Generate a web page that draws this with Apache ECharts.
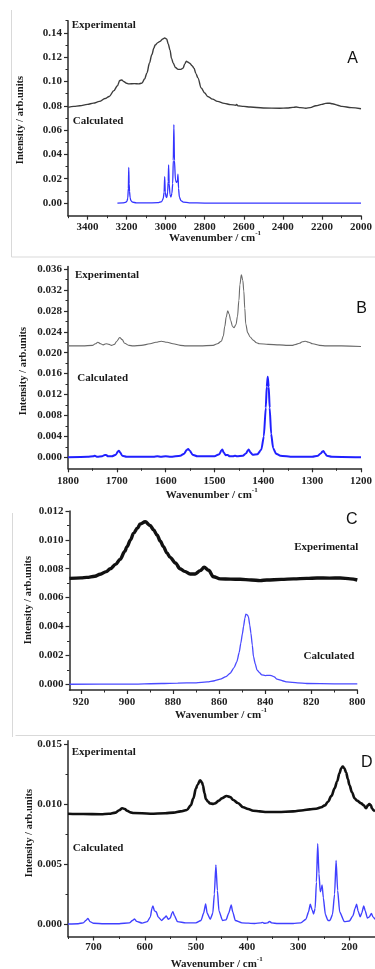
<!DOCTYPE html>
<html><head><meta charset="utf-8">
<script src="https://cdn.jsdelivr.net/npm/echarts@6/dist/echarts.min.js"></script>
<style>html,body{margin:0;padding:0;background:#fff}#c{width:375px;height:969px}</style>
</head><body><div id="c"></div>
<script>
// ---------- Panel A (3500-2000 cm-1) ----------
const expA = [[3500,0.0787],[3470,0.0795],[3440,0.0800],[3400,0.0812],[3370,0.0822],[3339,0.0836],[3310,0.0860],[3289,0.0877],[3265,0.0925],[3247,0.0965],[3235,0.1008],[3225,0.1012],[3213,0.0998],[3200,0.0985],[3188,0.0980],[3160,0.0982],[3138,0.0980],[3121,0.0987],[3108,0.1020],[3096,0.1070],[3083,0.1150],[3071,0.1220],[3060,0.1275],[3054,0.1300],[3040,0.1320],[3029,0.1330],[3015,0.1350],[3005,0.1358],[2995,0.1350],[2987,0.1310],[2978,0.1260],[2970,0.1190],[2961,0.1150],[2950,0.1115],[2936,0.1100],[2922,0.1100],[2911,0.1110],[2902,0.1145],[2894,0.1166],[2885,0.1158],[2877,0.1150],[2865,0.1130],[2855,0.1110],[2845,0.1065],[2835,0.1030],[2818,0.0946],[2800,0.0905],[2785,0.0877],[2760,0.0855],[2735,0.0836],[2700,0.0820],[2668,0.0810],[2640,0.0805],[2637,0.0812],[2630,0.0800],[2600,0.0795],[2567,0.0790],[2500,0.0782],[2416,0.0780],[2380,0.0782],[2349,0.0787],[2332,0.0790],[2310,0.0785],[2282,0.0780],[2260,0.0785],[2231,0.0800],[2200,0.0812],[2181,0.0820],[2160,0.0821],[2147,0.0817],[2120,0.0805],[2097,0.0795],[2050,0.0785],[2000,0.0776]];
const calcA = [[3247,0],[3220,0.0002],[3205,0.0006],[3198,0.0015],[3194,0.004],[3191,0.012],[3189,0.0294],[3187,0.016],[3185,0.0095],[3182,0.0045],[3178,0.002],[3170,0.0007],[3150,0.0002],[3100,0.0001],[3040,0.0003],[3020,0.0012],[3012,0.004],[3008,0.009],[3005,0.0217],[3002,0.009],[2998,0.005],[2994,0.0045],[2990,0.009],[2987,0.018],[2985,0.0313],[2982,0.016],[2978,0.007],[2973,0.005],[2968,0.008],[2964,0.016],[2961,0.035],[2958,0.0644],[2955,0.035],[2950,0.019],[2945,0.017],[2940,0.018],[2937,0.0237],[2934,0.012],[2930,0.005],[2922,0.002],[2910,0.0008],[2880,0.0002],[2800,0],[2000,0]];
const xTicksA = [2000,2200,2400,2600,2800,3000,3200,3400];
const xMinorA = [2100,2300,2500,2700,2900,3100,3300,3500];
const yTicksA = [0,0.02,0.04,0.06,0.08,0.10,0.12,0.14];
const yMinorA = [0.01,0.03,0.05,0.07,0.09,0.11,0.13,0.15];

// ---------- Panel B (1800-1200 cm-1) ----------
const expB = [[1800,0.0213],[1770,0.0213],[1750,0.0214],[1744,0.0217],[1739,0.0220],[1733,0.0217],[1728,0.0215],[1722,0.0217],[1716,0.0216],[1711,0.0214],[1705,0.0216],[1700,0.0222],[1694,0.0229],[1689,0.0225],[1684,0.0218],[1675,0.0214],[1667,0.0213],[1650,0.0214],[1632,0.0217],[1620,0.0220],[1609,0.0222],[1597,0.0220],[1585,0.0217],[1570,0.0214],[1558,0.0213],[1530,0.0213],[1503,0.0214],[1494,0.0217],[1486,0.0222],[1482,0.0232],[1479,0.0250],[1476,0.0268],[1473,0.0280],[1470,0.0274],[1467,0.0262],[1463,0.0250],[1460,0.0248],[1456,0.0254],[1453,0.0269],[1450,0.0300],[1448,0.0330],[1445,0.0349],[1442,0.0338],[1440,0.0318],[1438,0.0285],[1436,0.0255],[1432,0.0238],[1427,0.0230],[1421,0.0224],[1414,0.0219],[1408,0.0217],[1390,0.0216],[1367,0.0215],[1350,0.0214],[1340,0.0214],[1333,0.0216],[1326,0.0218],[1320,0.0221],[1314,0.0222],[1307,0.0220],[1299,0.0217],[1285,0.0214],[1271,0.0213],[1240,0.0213],[1200,0.0212]];
const calcB = [[1800,0],[1760,0.0001],[1748,0.0002],[1745,0.0003],[1740,0.0001],[1730,0.0002],[1726,0.0004],[1722,0.00045],[1718,0.0002],[1710,0.0002],[1702,0.0005],[1698,0.0011],[1696,0.00127],[1693,0.0009],[1689,0.0003],[1680,0.0001],[1625,0.0001],[1617,0.0002],[1610,0.0001],[1600,0.0002],[1590,0.0001],[1570,0.0003],[1562,0.0007],[1557,0.0014],[1554,0.0016],[1550,0.0012],[1545,0.0005],[1535,0.0002],[1500,0.0002],[1490,0.0006],[1486,0.0013],[1484,0.0015],[1481,0.0009],[1477,0.0004],[1473,0.00045],[1469,0.0002],[1462,0.0002],[1458,0.0003],[1454,0.0002],[1442,0.0003],[1435,0.0008],[1432,0.0013],[1430,0.0015],[1427,0.0010],[1422,0.0005],[1412,0.0006],[1404,0.0015],[1399,0.0040],[1395,0.0095],[1393,0.0135],[1391,0.0154],[1389,0.0135],[1387,0.0095],[1384,0.0045],[1380,0.0018],[1374,0.0007],[1365,0.0003],[1340,0.0001],[1300,0.0001],[1288,0.0003],[1282,0.0008],[1279,0.0011],[1277,0.0012],[1274,0.0008],[1270,0.0003],[1260,0.0001],[1200,0]];
const xTicksB = [1200,1300,1400,1500,1600,1700,1800];
const xMinorB = [1250,1350,1450,1550,1650,1750];
const yTicksB = [0,0.004,0.008,0.012,0.016,0.020,0.024,0.028,0.032,0.036];
const yMinorB = [0.002,0.006,0.010,0.014,0.018,0.022,0.026,0.030,0.034];

// ---------- Panel C (925-800 cm-1) ----------
const expC = [[925,0.00733],[920,0.00737],[917.5,0.0074],[914,0.00748],[911.7,0.00762],[909,0.0078],[907.3,0.0080],[905,0.0083],[903,0.00865],[901,0.0092],[900,0.00953],[898.5,0.0100],[897.2,0.01045],[895.5,0.0108],[894.3,0.0111],[892.1,0.01126],[890,0.0110],[888.5,0.0107],[887,0.01034],[885.5,0.0099],[884.2,0.00953],[882.7,0.0091],[881.3,0.00879],[879,0.0084],[877,0.0080],[875,0.00782],[872.6,0.00764],[870.4,0.00764],[868.2,0.00787],[866.5,0.0081],[864.6,0.0079],[862.5,0.00745],[859.5,0.0073],[855,0.00728],[850.9,0.00727],[846,0.00722],[842.2,0.00718],[839.3,0.00722],[833,0.00726],[827.7,0.0073],[822,0.00733],[817.5,0.00736],[812,0.00735],[807.4,0.00736],[803,0.0073],[800,0.00722]];
const calcC = [[925,0],[900,0.00001],[885,0.00005],[878,0.00008],[870,0.0001],[865.2,0.00016],[862,0.00024],[859.5,0.00035],[857,0.00053],[855.2,0.00076],[853.5,0.00115],[852.3,0.00157],[851.3,0.0022],[850.6,0.00284],[849.9,0.0035],[849.4,0.0040],[848.8,0.0046],[848.4,0.00485],[847.8,0.0048],[847.3,0.00468],[846.7,0.0041],[846.2,0.00353],[845.6,0.0027],[845.1,0.00192],[844.3,0.0014],[843.6,0.0010],[842.5,0.0008],[841.5,0.00065],[840,0.0006],[838.5,0.00062],[837.3,0.0006],[836,0.0005],[834.9,0.00035],[832.5,0.00024],[830.6,0.00016],[826,0.0001],[821.9,0.00005],[810,0.00003],[800,0.00002]];
const xTicksC = [800,820,840,860,880,900,920];
const xMinorC = [810,830,850,870,890,910];
const yTicksC = [0,0.002,0.004,0.006,0.008,0.010,0.012];
const yMinorC = [0.001,0.003,0.005,0.007,0.009,0.011];

// ---------- Panel D (750-150 cm-1) ----------
const expD = [[750,0.00921],[720,0.00918],[686,0.00916],[670,0.0092],[657,0.0093],[650,0.0095],[644,0.00966],[639,0.0096],[634.5,0.00946],[628,0.00932],[621.6,0.00927],[589,0.00921],[560,0.00925],[543.8,0.0093],[530,0.0094],[517.7,0.00952],[510,0.0099],[505,0.0105],[500,0.0113],[497,0.0116],[491.8,0.0120],[488,0.0118],[486.6,0.0116],[483,0.0109],[480.7,0.01044],[476,0.0102],[472.4,0.01007],[466,0.01003],[462.7,0.01007],[455,0.0103],[449.6,0.01049],[440,0.01069],[433,0.0106],[427,0.01035],[418,0.0101],[407.6,0.00974],[398,0.0096],[388,0.00946],[375,0.0094],[362,0.00935],[340,0.00935],[310,0.0094],[290,0.0095],[277.8,0.00957],[265,0.00962],[255,0.00974],[248,0.0099],[242,0.01021],[235,0.0107],[229,0.01133],[224,0.0119],[219.5,0.01258],[216,0.0130],[213,0.01314],[210,0.0130],[206.4,0.01264],[203,0.0121],[200,0.0116],[195,0.0110],[190,0.0105],[185,0.0103],[177,0.01007],[172,0.0099],[167.5,0.00966],[164,0.0099],[161,0.01002],[158,0.0099],[156,0.00966],[153,0.0095],[150,0.0094]];
const calcD = [[750,0],[730,0.00003],[720,0.0001],[715,0.0003],[711,0.00047],[707,0.0002],[700,0.00006],[680,0.00002],[650,0.00002],[630,0.0001],[624,0.0003],[620,0.00042],[616,0.00022],[605,0.00008],[595,0.0002],[589,0.0006],[586,0.0013],[584,0.0015],[581,0.0011],[577.5,0.00103],[574,0.0006],[567,0.0003],[562,0.0005],[558,0.00067],[554,0.0004],[550,0.0005],[547,0.0009],[545,0.00103],[542,0.0007],[536,0.0002],[520,0.0001],[500,0.0001],[490,0.0003],[485,0.0009],[481,0.00168],[478,0.0009],[472,0.0004],[467,0.0009],[464,0.0025],[461,0.00494],[458,0.0028],[455,0.0011],[448,0.0003],[441,0.00035],[436,0.0009],[431,0.00159],[428,0.0010],[423,0.0003],[410,0.0001],[385,0.00005],[373,0.0001],[370,0.00014],[366,0.00006],[360,0.0001],[356,0.00022],[352,0.0001],[340,0.00004],[310,0.00005],[295,0.0001],[285,0.0004],[280,0.0010],[276.5,0.00165],[273,0.0012],[270,0.00084],[267,0.0013],[264.5,0.0035],[262,0.0067],[259.5,0.0042],[257,0.0027],[255,0.0029],[253.4,0.00327],[251,0.0022],[247,0.0008],[242,0.0003],[238,0.0003],[233,0.0008],[229,0.0025],[226,0.0053],[223,0.0028],[219,0.0010],[210,0.0002],[200,0.00025],[193,0.0007],[189,0.0013],[186,0.00165],[183,0.0011],[179,0.0006],[176,0.0009],[172,0.0015],[169,0.0011],[165,0.0005],[161,0.0006],[157,0.00089],[154,0.0006],[150,0.0004]];
const xTicksD = [200,300,400,500,600,700];
const xMinorD = [250,350,450,550,650,750];
const yTicksD = [0,0.005,0.010,0.015];
const yMinorD = [0.0025,0.0075,0.0125];

const panelLetters = ['A','B','C','D'];
const expLabel = 'Experimental', calcLabel = 'Calculated';
const xTitle = 'Wavenumber / cm', xTitleSup = '-1', yTitle = 'Intensity / arb.units';

// ---------- build ----------
const SERIF = '"Liberation Serif","Times New Roman",serif';
const AX = '#2a2a2a';
const grids = [
  {left:68, top:20.7, width:298, height:195},
  {left:68, top:266.4, width:293.7, height:201.9},
  {left:69.5, top:511, width:287.8, height:179},
  {left:68, top:740.7, width:308, height:195.8}
];
const panels = [
  {xr:[2000,3500], yr:[-0.0104,0.15], xt:xTicksA, xm:xMinorA, yt:yTicksA, ym:yMinorA, dec:2, xm0:6, exp:expA, calc:calcA, ec:'#3c3c3c', ew:1.4, cc:'#3434ff', cw:1.3},
  {xr:[1200,1800], yr:[-0.0021,0.0365], xt:xTicksB, xm:xMinorB, yt:yTicksB, ym:yMinorB, dec:3, xm0:7, exp:expB, calc:calcB, ec:'#6a6a6a', ew:1.1, cc:'#2020ff', cw:2},
  {xr:[800,925], yr:[-0.0004,0.012], xt:xTicksC, xm:xMinorC, yt:yTicksC, ym:yMinorC, dec:3, xm0:7, exp:expC, calc:calcC, ec:'#111', ew:3.4, cc:'#4a4aff', cw:1.3},
  {xr:[150,750], yr:[-0.00104,0.0153], xt:xTicksD, xm:xMinorD, yt:yTicksD, ym:yMinorD, dec:3, xm0:5, exp:expD, calc:calcD, ec:'#111', ew:2.6, cc:'#4040ff', cw:1.4}
];
const xAxes = [], yAxes = [], series = [];
const lblStyle = {fontFamily:SERIF, fontWeight:'bold', fontSize:11, color:'#222'};
panels.forEach((p, gi) => {
  const xi = xAxes.length, yi = yAxes.length;
  xAxes.push({type:'value', gridIndex:gi, position:'bottom', min:p.xr[0], max:p.xr[1], inverse:true,
    axisLine:{show:true, onZero:false, lineStyle:{color:AX, width:1.5}},
    axisTick:{show:true, customValues:p.xt, length:4, lineStyle:{color:AX, width:1.2}},
    axisLabel:Object.assign({customValues:p.xt, margin:p.xm0, showMinLabel:true, showMaxLabel:true, formatter:v=>String(v)}, lblStyle),
    splitLine:{show:false}});
  xAxes.push({type:'value', gridIndex:gi, position:'bottom', min:p.xr[0], max:p.xr[1], inverse:true,
    axisLine:{show:false, onZero:false}, axisTick:{show:true, customValues:p.xm, length:2.5, lineStyle:{color:AX, width:1}},
    axisLabel:{show:false}, splitLine:{show:false}});
  yAxes.push({type:'value', gridIndex:gi, position:'left', min:p.yr[0], max:p.yr[1],
    axisLine:{show:true, onZero:false, lineStyle:{color:AX, width:1.5}},
    axisTick:{show:true, customValues:p.yt, length:4, lineStyle:{color:AX, width:1.2}},
    axisLabel:Object.assign({customValues:p.yt, margin:6, showMinLabel:true, showMaxLabel:true, formatter:v=>v.toFixed(p.dec)}, lblStyle),
    splitLine:{show:false}});
  yAxes.push({type:'value', gridIndex:gi, position:'left', min:p.yr[0], max:p.yr[1],
    axisLine:{show:false, onZero:false}, axisTick:{show:true, customValues:p.ym, length:2.5, lineStyle:{color:AX, width:1}},
    axisLabel:{show:false}, splitLine:{show:false}});
  series.push({type:'line', name:expLabel+' '+panelLetters[gi], xAxisIndex:xi, yAxisIndex:yi, data:p.exp, symbol:'none', smooth:0.35, smoothMonotone:'x', lineStyle:{color:p.ec, width:p.ew}, z:3});
  series.push({type:'line', name:calcLabel+' '+panelLetters[gi], xAxisIndex:xi, yAxisIndex:yi, data:p.calc, symbol:'none', smooth:0.2, smoothMonotone:'x', lineStyle:{color:p.cc, width:p.cw}, z:4});
});

function txt(x, y, s, opt) {
  return {type:'text', x:x, y:y, silent:true, z:10, rotation:opt && opt.rot || 0,
    style:Object.assign({text:s, fontFamily:SERIF, fontWeight:'bold', fontSize:11, fill:'#1a1a1a', textAlign:'left', textVerticalAlign:'middle'}, opt && opt.style || {})};
}
function xT(cx, cy) {
  return {type:'text', x:cx, y:cy, silent:true, z:10,
    style:{text:'{a|'+xTitle+'}{s|'+xTitleSup+'}', textAlign:'center', textVerticalAlign:'middle', fill:'#1a1a1a',
      rich:{a:{fontFamily:SERIF, fontWeight:'bold', fontSize:11, fill:'#1a1a1a', lineHeight:14, verticalAlign:'bottom'},
            s:{fontFamily:SERIF, fontWeight:'bold', fontSize:7, fill:'#1a1a1a', lineHeight:14, verticalAlign:'top'}}}};
}
function yT(cx, cy) {
  return txt(cx, cy, yTitle, {rot:Math.PI/2, style:{textAlign:'center', fontSize:10.5}});
}
function letter(cx, cy, s) {
  return {type:'text', x:cx, y:cy, silent:true, z:10, style:{text:s, fontFamily:'"Liberation Sans",Arial,sans-serif', fontSize:16, fill:'#111', textAlign:'center', textVerticalAlign:'middle'}};
}
function ln(x1,y1,x2,y2){ return {type:'line', silent:true, z:1, shape:{x1,y1,x2,y2}, style:{stroke:'#d9d9d9', lineWidth:1}}; }

const graphic = [
  ln(11.5,10,11.5,257), ln(11.5,257,375,257),
  ln(12.5,513,12.5,737), ln(15.5,735.5,375,735.5),
  txt(71.7,25,expLabel), txt(72.7,121,calcLabel),
  txt(75,275,expLabel), txt(77.3,378.3,calcLabel),
  txt(358.3,546.7,expLabel,{style:{textAlign:'right'}}), txt(354.3,655.7,calcLabel,{style:{textAlign:'right'}}),
  txt(71.7,751.7,expLabel), txt(72.7,848.3,calcLabel),
  letter(352.7,58.3,panelLetters[0]), letter(361.7,308.3,panelLetters[1]), letter(351.7,519.3,panelLetters[2]), letter(366.7,762.7,panelLetters[3]),
  xT(215,236.7), xT(211.7,494), xT(221,714), xT(216.7,962.7),
  yT(20.7,120), yT(23.3,371), yT(28.3,600), yT(29.3,833)
];

const chart = echarts.init(document.getElementById('c'), null, {renderer:'canvas'});
chart.setOption({animation:false, backgroundColor:'#fff', grid:grids.map(g=>Object.assign({containLabel:false}, g)), xAxis:xAxes, yAxis:yAxes, series:series, graphic:graphic});
</script></body></html>
